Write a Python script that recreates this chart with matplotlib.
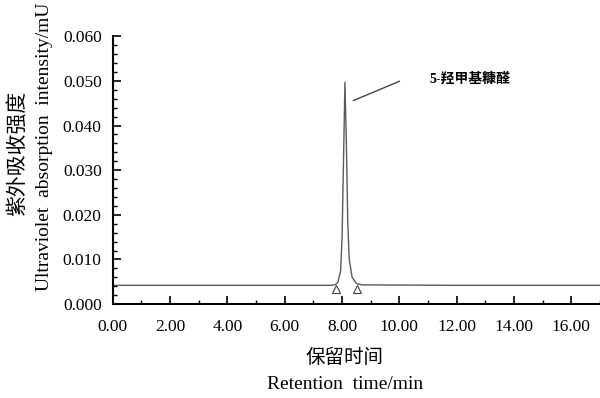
import numpy as np
import matplotlib.pyplot as plt
from matplotlib.ticker import MultipleLocator, FormatStrFormatter

plt.rcParams['font.family'] = ['Liberation Serif', 'Noto Sans CJK SC']

# chromatogram trace
time_min = [0.0, 3.0, 6.0, 7.6, 7.75, 7.85, 7.95, 8.0, 8.05, 8.1, 8.15, 8.2,
            8.25, 8.35, 8.5, 8.7, 12.0, 17.0]
intensity = [0.0042, 0.0042, 0.0042, 0.0042, 0.0043, 0.0048, 0.0075, 0.015,
             0.032, 0.0497, 0.036, 0.018, 0.010, 0.0060, 0.0046, 0.0043,
             0.0042, 0.0042]

# peak start / end markers
marker_t = [7.78, 8.52]
marker_v = [0.0033, 0.0033]

peak_name = "5-羟甲基糠醛"

fig = plt.figure(figsize=(6, 3.98), dpi=100)
ax = fig.add_axes([0.188, 0.236, 0.812, 0.673])

ax.plot(time_min, intensity, color='#5a5a5a', linewidth=1.0)
ax.plot(marker_t, marker_v, linestyle='none', marker='^', markersize=6,
        markerfacecolor='white', markeredgecolor='#444444', markeredgewidth=0.8)
ax.plot([8.4, 10.0], [0.0456, 0.0499], color='#444444', linewidth=1.0)
ax.text(11.05, 0.0506, peak_name, fontsize=10, fontweight='bold', va='center')

ax.set_xlim(0, 17)
ax.set_ylim(0, 0.06)
ax.xaxis.set_major_locator(MultipleLocator(2))
ax.xaxis.set_minor_locator(MultipleLocator(1))
ax.yaxis.set_major_locator(MultipleLocator(0.01))
ax.yaxis.set_minor_locator(MultipleLocator(0.002))
ax.xaxis.set_major_formatter(FormatStrFormatter('%.2f'))
ax.yaxis.set_major_formatter(FormatStrFormatter('%.3f'))
ax.tick_params(which='major', direction='in', length=6, width=1.2, labelsize=12.5, pad=8)
ax.tick_params(axis='x', which='major', pad=11)
ax.tick_params(which='minor', direction='in', length=3, width=1.0)
ax.spines['top'].set_visible(False)
ax.spines['right'].set_visible(False)
ax.spines['left'].set_linewidth(1.5)
ax.spines['bottom'].set_linewidth(1.5)

fig.text(0.03, 0.615, "紫外吸收强度", rotation=90, fontsize=15, ha='center', va='center')
fig.text(0.075, 0.63, "Ultraviolet  absorption  intensity/mU", rotation=90,
         fontsize=14, ha='center', va='center')
fig.text(0.575, 0.1, "保留时间", fontsize=14, ha='center', va='center')
fig.text(0.575, 0.035, "Retention  time/min", fontsize=14, ha='center', va='center')

fig.savefig("out.png", dpi=100)
